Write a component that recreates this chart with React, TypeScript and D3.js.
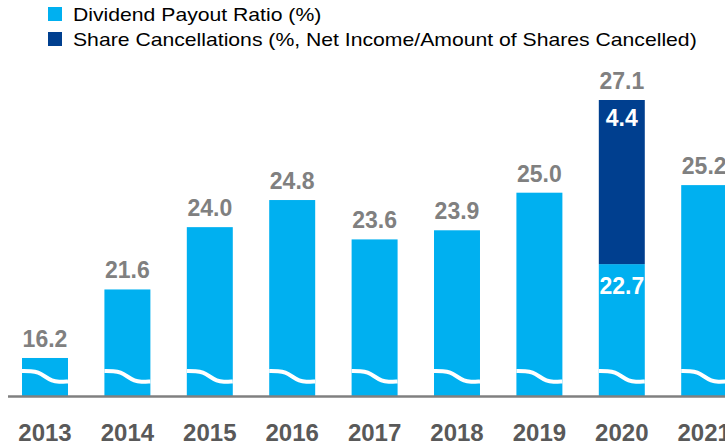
import React from 'react';
import * as d3 from 'd3';

const years = ['2013', '2014', '2015', '2016', '2017', '2018', '2019', '2020', '2021'];
const dividendPayout = [16.2, 21.6, 24.0, 24.8, 23.6, 23.9, 25.0, 22.7, 25.2];
const shareCancellations = [0, 0, 0, 0, 0, 0, 0, 4.4, 0];
const legendLabels = [
  'Dividend Payout Ratio (%)',
  'Share Cancellations (%, Net Income/Amount of Shares Cancelled)',
];

const W = 725;
const H = 445;
const BASE = 396;
const LIGHT = '#00B0F0';
const DARK = '#003F8F';
const FONT = 'Liberation Sans, Arial, sans-serif';

export default function App() {
  const x = d3
    .scaleBand<string>()
    .domain(years)
    .range([3.8, 745.4])
    .paddingInner(0.442)
    .paddingOuter(0.221);
  const maxTotal = d3.max(dividendPayout.map((d, i) => d + shareCancellations[i])) as number;
  // broken axis: a power scale with an offset reproduces the original's compressed heights
  const y = d3.scalePow().exponent(5).domain([0, maxTotal]).range([BASE - 16.7, 100]);
  const bw = x.bandwidth();

  const wave = d3.line<[number, number]>().curve(d3.curveBasis);

  return (
    <svg width={W} height={H} style={{ position: 'absolute', left: 0, top: 0 }} fontFamily={FONT}>
      {/* legend */}
      {legendLabels.map((t, i) => (
        <g key={t} transform={`translate(48,${7 + i * 25})`}>
          <rect width={14} height={14} fill={i === 0 ? LIGHT : DARK} />
          <text transform="translate(25,13.5) scale(1.115,1)" fontSize={19} fill="#000">
            {t}
          </text>
        </g>
      ))}

      {years.map((yr, i) => {
        const x0 = x(yr) as number;
        const div = dividendPayout[i];
        const can = shareCancellations[i];
        const total = div + can;
        const yDiv = y(div);
        const yTot = y(total);
        const wavePts: [number, number][] = [
          [x0, BASE - 25],
          [x0 + bw * 0.2, BASE - 25],
          [x0 + bw * 0.35, BASE - 24],
          [x0 + bw * 0.5, BASE - 19.5],
          [x0 + bw * 0.65, BASE - 15],
          [x0 + bw * 0.8, BASE - 14],
          [x0 + bw, BASE - 14.5],
        ];
        return (
          <g key={yr}>
            <rect x={x0} y={yDiv} width={bw} height={BASE - yDiv} fill={LIGHT} />
            {can > 0 && (
              <rect x={x0} y={yTot} width={bw} height={yDiv - yTot} fill={DARK} />
            )}
            <path d={wave(wavePts) as string} fill="none" stroke="#fff" strokeWidth={4} />
            <text
              x={x0 + bw / 2}
              y={yTot - 11}
              textAnchor="middle"
              fontSize={23}
              fontWeight="bold"
              fill="#808080"
            >
              {total.toFixed(1)}
            </text>
            {can > 0 && (
              <>
                <text
                  x={x0 + bw / 2}
                  y={yTot + 26}
                  textAnchor="middle"
                  fontSize={23}
                  fontWeight="bold"
                  fill="#fff"
                >
                  {can.toFixed(1)}
                </text>
                <text
                  x={x0 + bw / 2}
                  y={yDiv + 30}
                  textAnchor="middle"
                  fontSize={23}
                  fontWeight="bold"
                  fill="#fff"
                >
                  {div.toFixed(1)}
                </text>
              </>
            )}
            <text
              x={x0 + bw / 2}
              y={441}
              textAnchor="middle"
              fontSize={24}
              fontWeight="bold"
              fill="#595959"
            >
              {yr}
            </text>
          </g>
        );
      })}

      <line x1={8} x2={W} y1={BASE + 0.5} y2={BASE + 0.5} stroke="#808080" strokeWidth={2.5} />
    </svg>
  );
}
